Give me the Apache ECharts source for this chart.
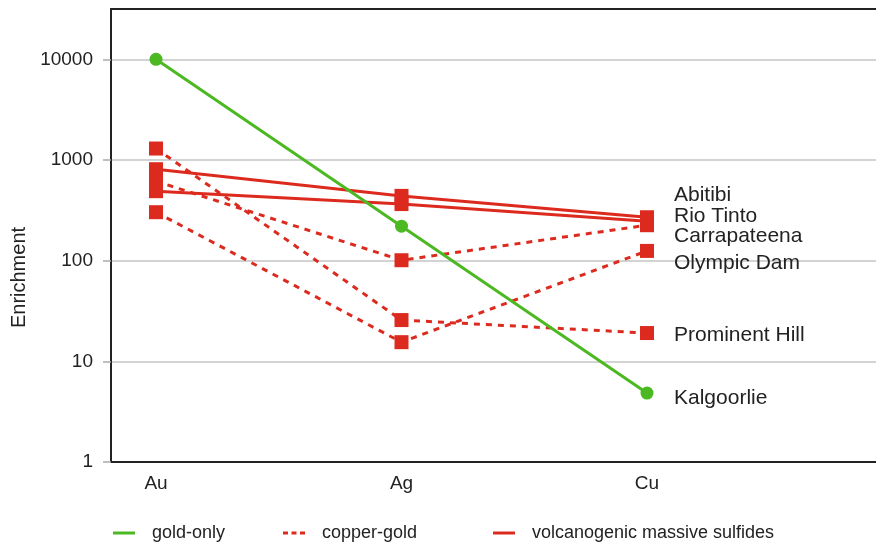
<!DOCTYPE html>
<html>
<head>
<meta charset="utf-8">
<script src="https://cdn.jsdelivr.net/npm/echarts@6/dist/echarts.min.js"></script>
<style>
html,body{margin:0;padding:0;background:#fff;}
#chart{width:876px;height:545px;}
</style>
</head>
<body>
<div id="chart"></div>
<script>
// ---- data ----
const categories = ['Au', 'Ag', 'Cu'];
const yTicks = [1, 10, 100, 1000, 10000];
const groups = ['gold-only', 'copper-gold', 'volcanogenic massive sulfides'];

const kalgoorlie    = [10000, 220, 4.84];
const abitibi       = [810, 440, 270];
const rioTinto      = [490, 365, 247];
const carrapateena  = [615, 101, 225];
const olympicDam    = [303, 15.5, 125];
const prominentHill = [1300, 25.7, 19.1];

const deposits = [
  { label: 'Prominent Hill', group: 'copper-gold', values: prominentHill },
  { label: 'Carrapateena',   group: 'copper-gold', values: carrapateena },
  { label: 'Olympic Dam',    group: 'copper-gold', values: olympicDam },
  { label: 'Abitibi',        group: 'volcanogenic massive sulfides', values: abitibi },
  { label: 'Rio Tinto',      group: 'volcanogenic massive sulfides', values: rioTinto },
  { label: 'Kalgoorlie',     group: 'gold-only', values: kalgoorlie }
];

// ---- styles ----
const FONT = "'Liberation Sans', Arial, sans-serif";
const TXT = '#222';
const AXIS = '#222';
const GREEN = '#4cb923';
const RED = '#dc2b1e';
const labelShift = {
  'Abitibi': -22, 'Rio Tinto': -5, 'Carrapateena': 11,
  'Olympic Dam': 12, 'Prominent Hill': 2, 'Kalgoorlie': 5
};
const groupStyle = {
  'gold-only': { color: GREEN, type: 'solid', symbol: 'circle', size: 13 },
  'copper-gold': { color: RED, type: [6, 6], symbol: 'rect', size: 14 },
  'volcanogenic massive sulfides': { color: RED, type: 'solid', symbol: 'rect', size: 14 }
};

const series = deposits.map(d => {
  const st = groupStyle[d.group];
  return {
    type: 'line',
    name: d.group,
    xAxisIndex: 0,
    data: d.values.map((v, i) => [i, v]),
    symbol: st.symbol,
    symbolSize: st.size,
    showAllSymbol: true,
    lineStyle: { color: st.color, width: 3, type: st.type, cap: 'butt' },
    itemStyle: { color: st.color, borderWidth: 0 },
    z: d.group === 'gold-only' ? 5 : 3,
    emphasis: { disabled: true },
    animation: false,
    endLabel: {
      show: true,
      formatter: d.label,
      distance: 27,
      offset: [0, labelShift[d.label]],
      color: TXT,
      fontSize: 21,
      fontFamily: FONT
    }
  };
});

const legendIcons = {
  'gold-only': 'path://M0,0h22v3h-22z',
  'copper-gold': 'path://M0,0h5v3h-5zM8.5,0h5v3h-5zM17,0h5v3h-5z',
  'volcanogenic massive sulfides': 'path://M0,0h22v3h-22z'
};
const legendLeft = [113, 283, 493];
const legends = groups.map((g, i) => ({
  data: [{ name: g, icon: legendIcons[g] }],
  left: legendLeft[i],
  top: 524,
  itemWidth: 22,
  itemHeight: 3,
  itemStyle: { color: g === 'gold-only' ? GREEN : RED },
  lineStyle: { opacity: 0 },
  selectedMode: false,
  padding: 0,
  textStyle: { color: TXT, fontSize: 18, fontFamily: FONT, padding: [0, 0, 0, 12] }
}));

const xMin = -0.1833, xMax = 2.9328;

const chart = echarts.init(document.getElementById('chart'), null, { renderer: 'canvas' });
chart.setOption({
  animation: false,
  backgroundColor: '#fff',
  legend: legends,
  grid: { left: 111, top: 9, right: 0, bottom: 83, containLabel: false, outerBoundsMode: 'none' },
  xAxis: [{
    type: 'value',
    min: xMin, max: xMax,
    axisLine: { show: true, onZero: false, lineStyle: { color: AXIS, width: 2 } },
    axisTick: { show: false },
    splitLine: { show: false },
    axisLabel: {
      customValues: [0, 1, 2],
      formatter: v => categories[Math.round(v)] || '',
      color: TXT, fontSize: 19, fontFamily: FONT, margin: 12
    }
  }, {
    type: 'value',
    position: 'top',
    min: xMin, max: xMax,
    axisLine: { show: true, onZero: false, lineStyle: { color: AXIS, width: 2 } },
    axisTick: { show: false },
    splitLine: { show: false },
    axisLabel: { show: false }
  }],
  yAxis: {
    type: 'log',
    logBase: 10,
    min: 1, max: 31623,
    name: 'Enrichment',
    nameLocation: 'middle',
    nameRotate: 90,
    nameGap: 82,
    nameTextStyle: { color: TXT, fontSize: 20, fontFamily: FONT, padding: [0, 84, 0, 0] },
    axisLine: { show: true, onZero: false, lineStyle: { color: AXIS, width: 2 } },
    axisTick: { show: true, customValues: yTicks, length: 8, lineStyle: { color: '#aaa', width: 1.5 } },
    splitLine: { show: true, lineStyle: { color: '#c4c4c4', width: 1.5 } },
    axisLabel: {
      customValues: yTicks,
      formatter: v => String(Math.round(v)),
      color: TXT, fontSize: 19, fontFamily: FONT, margin: 18
    }
  },
  series: series
});
</script>
</body>
</html>
